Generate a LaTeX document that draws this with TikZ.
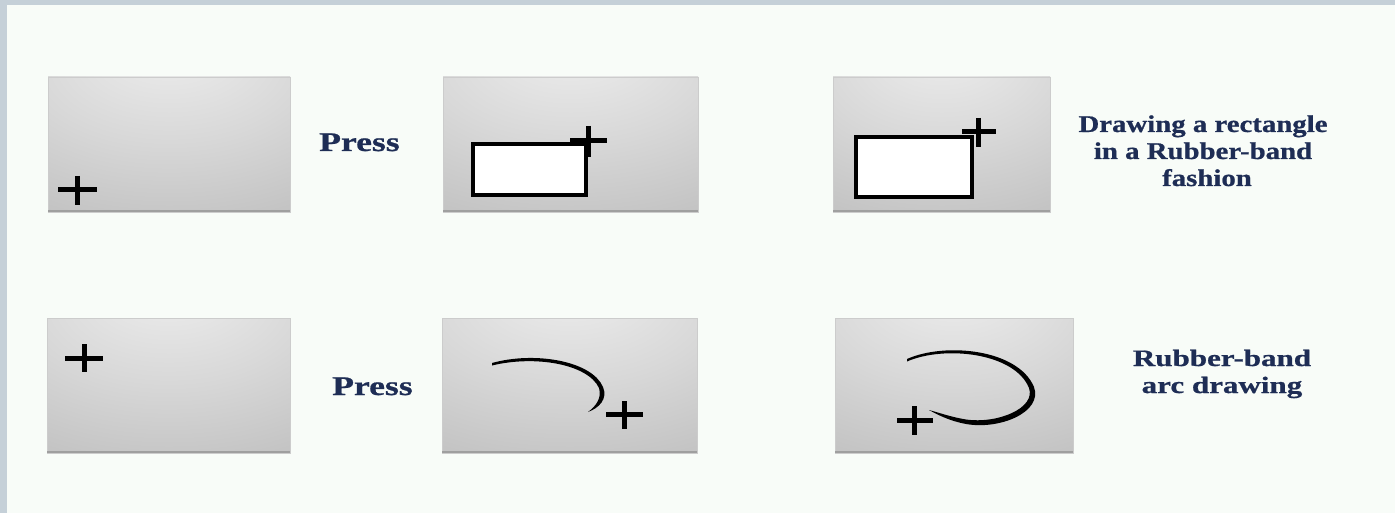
\documentclass[tikz,border=0pt]{standalone}
\usepackage{fontspec}
\newfontfamily\labA[FakeStretch=1.2,FakeBold=0.8]{Liberation Serif}
\newfontfamily\labB[FakeStretch=1.32,FakeBold=0.8]{Liberation Serif}
\definecolor{bgc}{RGB}{248,252,248}
\definecolor{framec}{RGB}{197,208,216}
\definecolor{navy}{RGB}{30,45,85}
\definecolor{bxA}{RGB}{238,238,238}
\definecolor{bxB}{RGB}{216,216,216}
\definecolor{bxC}{RGB}{190,190,190}
\definecolor{bxD}{RGB}{166,166,166}
\pgfdeclareradialshading{boxshade}{\pgfpoint{0bp}{38bp}}{color(0bp)=(bxA); color(28bp)=(bxB); color(58bp)=(bxC); color(90bp)=(bxD); color(120bp)=(bxD)}
\tikzset{
  panel/.style={shading=boxshade, draw=gray!40, line width=0.8pt},
  panelbottom/.style={draw=gray!75, line width=1.4pt},
  crs/.style={draw=black, line width=5pt, line cap=butt},
  whiterect/.style={fill=white, draw=black, line width=3.2pt},
  arcfill/.style={fill=black},
  toplab/.style={font=\labA\bfseries\fontsize{24}{28}\selectfont, text=navy, inner sep=0pt, anchor=base},
  botlab/.style={font=\labB\bfseries\fontsize{23.5}{27}\selectfont, text=navy, inner sep=0pt, anchor=base},
  presslab/.style={font=\labB\bfseries\fontsize{27}{30}\selectfont, text=navy, inner sep=0pt, anchor=base west}
}
\begin{document}
\begin{tikzpicture}[x=1pt,y=-1pt]
% background and frame
\fill[bgc] (0,0) rectangle (1395,513);
\useasboundingbox (0,0) rectangle (1395,513);
\fill[framec] (0,0) rectangle (1395,5);
\fill[framec] (0,0) rectangle (7,513);

% ---------- row 1 ----------
\path[panel] (48,77) rectangle (290,212);
\draw[panelbottom] (48,211) -- (290,211);
\draw[crs] (58,190) -- (97,190) (77,176) -- (77,205);

\node[presslab] (press1) at (319,151) {Press};

\path[panel] (443,77) rectangle (698,212);
\draw[panelbottom] (443,211) -- (698,211);
\draw[whiterect] (473,144) rectangle (586,195);
\draw[crs] (570,141) -- (607,141) (588,126) -- (588,157);

\path[panel] (833,77) rectangle (1050,212);
\draw[panelbottom] (833,211) -- (1050,211);
\draw[whiterect] (856,137) rectangle (972,197);
\draw[crs] (962,132) -- (996,132) (978,118) -- (978,147);

\node[toplab] (lr1) at (1203,132) {Drawing a rectangle};
\node[toplab] (lr2) at (1203,159) {in a Rubber-band};
\node[toplab] (lr3) at (1207,186) {fashion};

% ---------- row 2 ----------
\path[panel] (47,318) rectangle (290,453);
\draw[panelbottom] (47,452) -- (290,452);
\draw[crs] (65,358) -- (103,358) (84,344) -- (84,372);

\node[presslab] (press2) at (332,395) {Press};

\path[panel] (442,318) rectangle (697,453);
\draw[panelbottom] (442,452) -- (697,452);
\fill[arcfill] (492,363) .. controls (535,351) and (592,361) .. (603,387) .. controls (608,399) and (599,408) .. (588,412)
  .. controls (596,406) and (602,398) .. (599,388) .. controls (588,364) and (535,355) .. (492,365.5) -- cycle;
\draw[crs] (606,414) -- (643,414) (624,401) -- (624,429);

\path[panel] (835,318) rectangle (1073,453);
\draw[panelbottom] (835,452) -- (1073,452);
\fill[arcfill] (907,359) .. controls (945,342) and (1018,349) .. (1034,387) .. controls (1043,412) and (1000,430) .. (966,424) .. controls (950,421) and (938,415) .. (929,410)
  .. controls (940,413) and (951,417) .. (966,419.5) .. controls (998,424) and (1036,408) .. (1029,388) .. controls (1015,353) and (945,345) .. (907,361.5) -- cycle;
\draw[crs] (897,420) -- (933,420) (914,406) -- (914,435);

\node[botlab] (la1) at (1222,366) {Rubber-band};
\node[botlab] (la2) at (1222,393) {arc drawing};
\end{tikzpicture}
\end{document}
